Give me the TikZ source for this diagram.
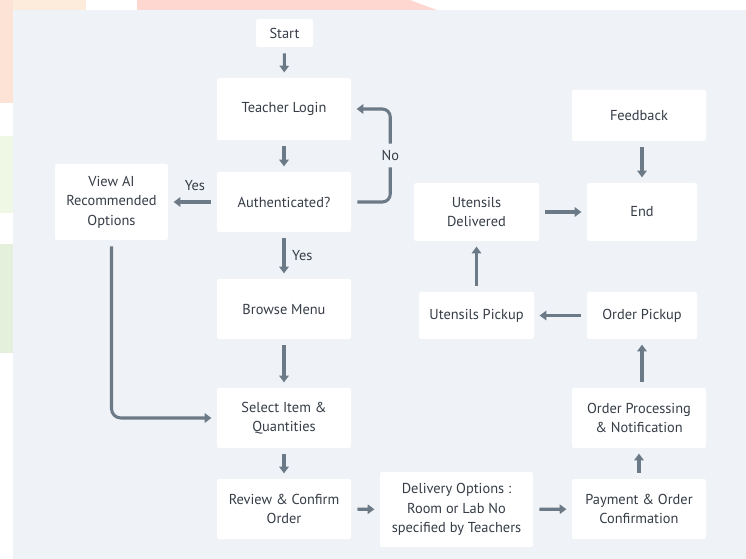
\documentclass[tikz,border=0pt]{standalone}
\usepackage{fontspec}
\setmainfont{PT Sans}
\usetikzlibrary{arrows.meta}
\definecolor{bgc}{HTML}{EFF2F6}
\definecolor{linec}{HTML}{6C7A88}
\definecolor{txtc}{HTML}{363D47}
\definecolor{wmA}{HTML}{FDEBDC}
\definecolor{wmB}{HTML}{FED8D0}
\definecolor{wmC}{HTML}{FDE3D6}
\definecolor{wmD}{HTML}{EEF8E5}
\definecolor{wmE}{HTML}{E4F0DB}
\tikzset{
  box/.style={draw=none, fill=white, rounded corners=1.5pt, align=center,
    text=txtc, font=\fontsize{10.8pt}{14.6pt}\selectfont, inner sep=0pt},
  arr/.style={draw=linec, line width=2.3pt, -{Triangle[length=5pt,width=7pt]},
    shorten <=4.5pt, shorten >=4pt},
  lbl/.style={text=txtc, font=\fontsize{10.8pt}{14.6pt}\selectfont, inner sep=1pt}
}
\begin{document}
\begin{tikzpicture}[x=0.75pt,y=-0.75pt]
\useasboundingbox (0,0) rectangle (746,559);
% faint watermark remnants outside the panel
\fill[wmA] (0,0) rectangle (86,10);
\fill[wmB] (137,0) -- (410,0) -- (437,10) -- (137,10) -- cycle;
\fill[wmC] (0,0) rectangle (13,103);
\fill[wmD] (0,136) rectangle (13,213);
\fill[wmE] (0,244) rectangle (13,353);
% panel
\fill[bgc] (13,10) rectangle (746,559);

% nodes
\node[box, minimum width=57*0.75pt, minimum height=28*0.75pt] (start) at (284.5,33) {Start};
\node[box, minimum width=134*0.75pt, minimum height=62*0.75pt] (login) at (284,109) {Teacher Login};
\node[box, minimum width=134*0.75pt, minimum height=60*0.75pt] (auth) at (284,202) {Authenticated?};
\node[box, minimum width=113*0.75pt, minimum height=76*0.75pt] (viewai) at (111.5,202) {View AI\\Recommended\\Options};
\node[box, minimum width=134*0.75pt, minimum height=60*0.75pt] (browse) at (284,309) {Browse Menu};
\node[box, minimum width=134*0.75pt, minimum height=60*0.75pt] (select) at (284,418) {Select Item \&\\Quantities};
\node[box, minimum width=134*0.75pt, minimum height=60*0.75pt] (review) at (284,509) {Review \& Confirm\\Order};
\node[box, minimum width=153*0.75pt, minimum height=75*0.75pt] (delivery) at (456.5,509.5) {Delivery Options :\\Room or Lab No\\specified by Teachers};
\node[box, minimum width=134*0.75pt, minimum height=60*0.75pt] (payment) at (639,509) {Payment \& Order\\Confirmation};
\node[box, minimum width=134*0.75pt, minimum height=60*0.75pt] (process) at (639,418) {Order Processing\\\& Notification};
\node[box, minimum width=110*0.75pt, minimum height=47*0.75pt] (opickup) at (642,315.5) {Order Pickup};
\node[box, minimum width=115*0.75pt, minimum height=47*0.75pt] (upickup) at (476.5,315.5) {Utensils Pickup};
\node[box, minimum width=125*0.75pt, minimum height=58*0.75pt] (udeliv) at (476.5,212) {Utensils\\Delivered};
\node[box, minimum width=110*0.75pt, minimum height=58*0.75pt] (endn) at (642,212) {End};
\node[box, minimum width=134*0.75pt, minimum height=51*0.75pt] (feedback) at (639,115.5) {Feedback};

% connectors
\draw[arr] (start) -- (login);
\draw[arr] (login) -- (auth);
\draw[arr] (auth.west) -- (viewai.east) node[lbl, pos=0.45, above=6pt] {Yes};
\draw[arr] (auth) -- (browse) node[lbl, pos=0.5, right=4pt] {Yes};
\draw[arr, rounded corners=6pt] (auth.east) -- ++(39,0) |- (login.east)
  node[lbl, pos=0.25, fill=bgc, inner ysep=5pt] {No};
\draw[arr, rounded corners=7pt] (viewai.south) |- (select.west);
\draw[arr] (browse) -- (select);
\draw[arr] (select) -- (review);
\draw[arr] (review) -- (delivery);
\draw[arr] (delivery) -- (payment);
\draw[arr] (payment) -- (process);
\draw[arr] (process.north -| opickup.south) -- (opickup.south);
\draw[arr] (opickup) -- (upickup);
\draw[arr] (upickup) -- (udeliv);
\draw[arr] (udeliv) -- (endn);
\draw[arr] (feedback.south -| endn.north) -- (endn.north);
\end{tikzpicture}
\end{document}
